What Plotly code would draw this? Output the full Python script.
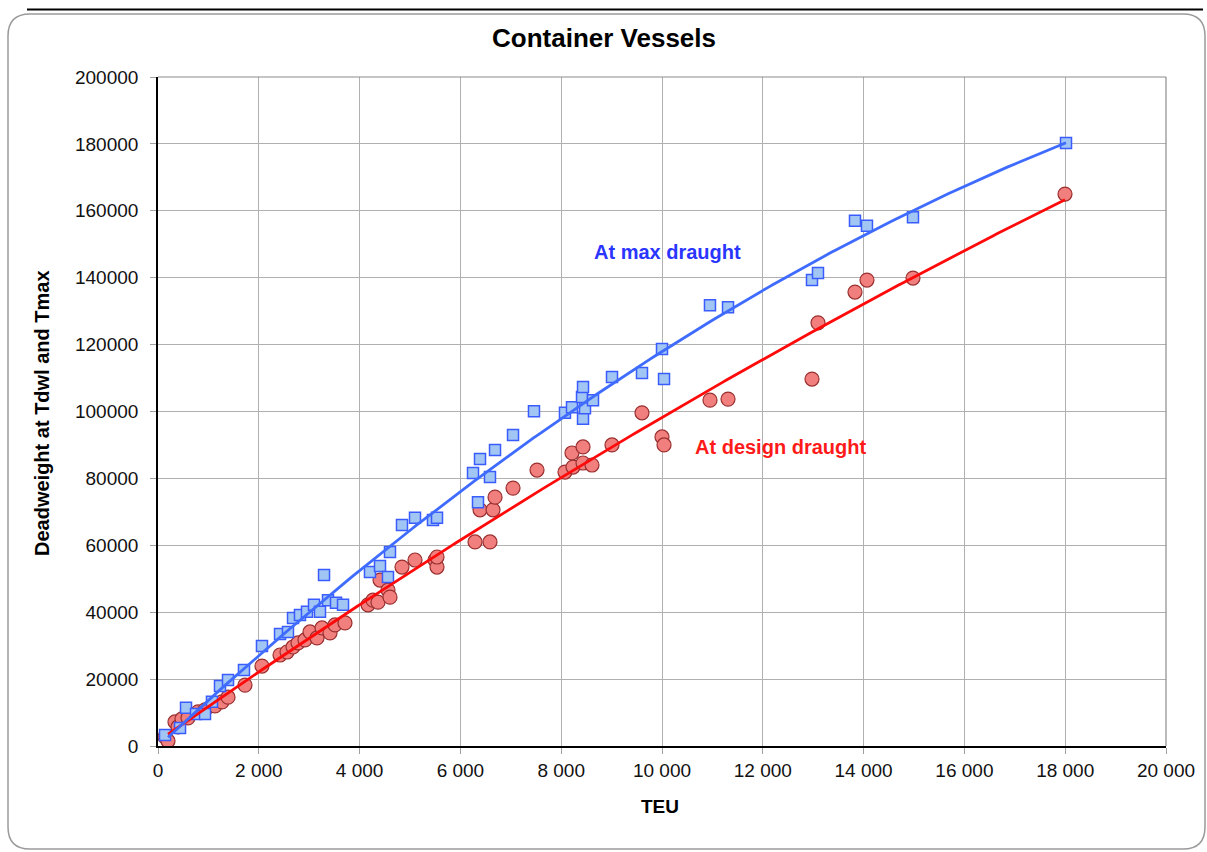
import numpy as np
import plotly.graph_objects as go

# ---- data ----
max_teu = [139, 437, 556, 754, 933, 1071, 1230, 1389, 1706, 2063, 2421, 2579, 2679, 2817,
           2956, 3095, 3214, 3294, 3373, 3532, 3671, 4206, 4405, 4563, 4603, 4841, 5099,
           5456, 5536, 6250, 6349, 6389, 6587, 6687, 7044, 7460, 8075, 8214, 8413, 8433,
           8433, 8472, 8631, 9008, 9603, 10000, 10040, 10952, 11310, 12976, 13095, 13829,
           14067, 14980, 18016]
max_dwt = [3300, 5400, 11400, 9600, 9600, 13200, 17900, 19700, 22700, 29900, 33500, 34100,
           38300, 39200, 40100, 42200, 40100, 51100, 43600, 42800, 42200, 52000, 53800,
           50500, 58000, 66100, 68200, 67600, 68200, 81600, 72900, 85800, 80400, 88500,
           93000, 100100, 99600, 101300, 104300, 107300, 97800, 101000, 103400, 110300,
           111500, 118700, 109700, 131800, 131200, 139300, 141400, 157000, 155500, 158100,
           180300]

design_teu = [139, 198, 337, 397, 476, 595, 794, 933, 1131, 1270, 1389, 1726, 2063, 2421,
              2560, 2679, 2778, 2917, 3016, 3155, 3254, 3413, 3512, 3710, 4167, 4266, 4365,
              4405, 4563, 4603, 4841, 5099, 5496, 5536, 5536, 6290, 6587, 6389, 6647, 6687,
              7044, 7520, 8075, 8214, 8234, 8433, 8433, 8611, 9008, 9603, 10000, 10040,
              10952, 11310, 12976, 13095, 13829, 14067, 14980, 17996]
design_dwt = [2700, 1500, 7200, 5700, 8100, 8400, 10200, 10800, 12000, 13200, 14600, 18200,
              23900, 27200, 28100, 29600, 30800, 31700, 34100, 32300, 35300, 33800, 36200,
              36800, 42200, 43600, 43000, 49600, 46600, 44500, 53500, 55600, 55600, 53500,
              56500, 61000, 61000, 70600, 70600, 74400, 77100, 82500, 81900, 87600, 83400,
              89400, 84600, 84000, 90000, 99600, 92400, 90000, 103400, 103700, 109700,
              126500, 135700, 139300, 139900, 165000]

title_text = "Container Vessels"
x_title = "TEU"
y_title = "Deadweight at Tdwl and Tmax"
label_max = "At max draught"
label_design = "At design draught"

# ---- layout geometry (pixels) ----
W, H = 1207, 852
L, R, T, B = 158, 1166, 77, 746
PW, PH = R - L, B - T


def px(x):
    return (x - L) / PW


def py(y):
    return (B - y) / PH


FONT = "Liberation Sans, Arial, sans-serif"

# trendlines fitted from the data (2nd order polynomial, like a spreadsheet trendline)
cb = np.polyfit(max_teu, max_dwt, 2)
cr = np.polyfit(design_teu, design_dwt, 2)
xb = np.linspace(min(max_teu) + 60, max(max_teu), 200)
xr = np.linspace(min(design_teu) + 60, max(design_teu), 200)

fig = go.Figure()
fig.add_trace(go.Scatter(
    x=design_teu, y=design_dwt, mode="markers", name="design",
    marker=dict(symbol="circle", size=14, color="#f17f7d",
                line=dict(color="#9a2f2f", width=1.2))))
fig.add_trace(go.Scatter(
    x=max_teu, y=max_dwt, mode="markers", name="max",
    marker=dict(symbol="square", size=11, color="#a2c6f4",
                line=dict(color="#3a5cff", width=1.5))))
fig.add_trace(go.Scatter(x=xr, y=np.polyval(cr, xr), mode="lines",
                         line=dict(color="#ff0a0a", width=2.8)))
fig.add_trace(go.Scatter(x=xb, y=np.polyval(cb, xb), mode="lines",
                         line=dict(color="#3f6cff", width=2.8)))


def rounded_rect(x0, y0, x1, y1, r):
    pts = [
        f"M {px(x0 + r)},{py(y0)}",
        f"L {px(x1 - r)},{py(y0)}",
        f"Q {px(x1)},{py(y0)} {px(x1)},{py(y0 + r)}",
        f"L {px(x1)},{py(y1 - r)}",
        f"Q {px(x1)},{py(y1)} {px(x1 - r)},{py(y1)}",
        f"L {px(x0 + r)},{py(y1)}",
        f"Q {px(x0)},{py(y1)} {px(x0)},{py(y1 - r)}",
        f"L {px(x0)},{py(y0 + r)}",
        f"Q {px(x0)},{py(y0)} {px(x0 + r)},{py(y0)}",
        "Z",
    ]
    return " ".join(pts)


shapes = [
    dict(type="path", xref="paper", yref="paper", path=rounded_rect(8, 14, 1205, 849, 22),
         line=dict(color="#9a9a9a", width=1.5), layer="below"),
    dict(type="line", xref="paper", yref="paper", x0=px(27), x1=px(1203), y0=py(9.5), y1=py(9.5),
         line=dict(color="#000000", width=2)),
    # plot area top / right border
    dict(type="line", xref="paper", yref="paper", x0=0, x1=1, y0=1, y1=1,
         line=dict(color="#8c8c8c", width=1.2)),
    dict(type="line", xref="paper", yref="paper", x0=1, x1=1, y0=0, y1=1,
         line=dict(color="#8c8c8c", width=1.2)),
]

annotations = [
    dict(text=f"<b>{title_text}</b>", xref="paper", yref="paper", x=px(604), y=py(38),
         showarrow=False, font=dict(family=FONT, size=26, color="#000000"),
         xanchor="center", yanchor="middle"),
    dict(text=f"<b>{x_title}</b>", xref="paper", yref="paper", x=px(660), y=py(806),
         showarrow=False, font=dict(family=FONT, size=19, color="#000000"),
         xanchor="center", yanchor="middle"),
    dict(text=f"<b>{y_title}</b>", xref="paper", yref="paper", x=px(42), y=py(413),
         showarrow=False, textangle=-90, font=dict(family=FONT, size=20, color="#000000"),
         xanchor="center", yanchor="middle"),
    dict(text=f"<b>{label_max}</b>", xref="paper", yref="paper", x=px(667), y=py(252),
         showarrow=False, font=dict(family=FONT, size=20, color="#2a35ff"),
         xanchor="center", yanchor="middle"),
    dict(text=f"<b>{label_design}</b>", xref="paper", yref="paper", x=px(780), y=py(447),
         showarrow=False, font=dict(family=FONT, size=20, color="#ff1a1a"),
         xanchor="center", yanchor="middle"),
]

fig.update_layout(
    width=W, height=H,
    margin=dict(l=L, r=W - R, t=T, b=H - B, pad=0),
    paper_bgcolor="white", plot_bgcolor="white",
    showlegend=False,
    separators=". ",
    shapes=shapes, annotations=annotations,
    xaxis=dict(range=[0, 20000], dtick=2000, tick0=0, tickformat=",d",
               showgrid=True, gridcolor="#b0b0b0", gridwidth=1.2,
               showline=True, linecolor="#000000", linewidth=2.2,
               ticks="outside", ticklen=6, tickcolor="#a0a0a0", tickwidth=1,
               tickfont=dict(family=FONT, size=19, color="#111111"),
               zeroline=False, fixedrange=True),
    yaxis=dict(range=[0, 200000], dtick=20000, tick0=0, tickformat="d",
               showgrid=True, gridcolor="#b0b0b0", gridwidth=1.2,
               showline=True, linecolor="#000000", linewidth=1.6,
               ticks="outside", ticklen=6, tickcolor="#a0a0a0", tickwidth=1,
               tickfont=dict(family=FONT, size=19, color="#111111"),
               ticklabelstandoff=8,
               zeroline=False, fixedrange=True),
)

fig.write_html("out.html", config={"displayModeBar": False})
